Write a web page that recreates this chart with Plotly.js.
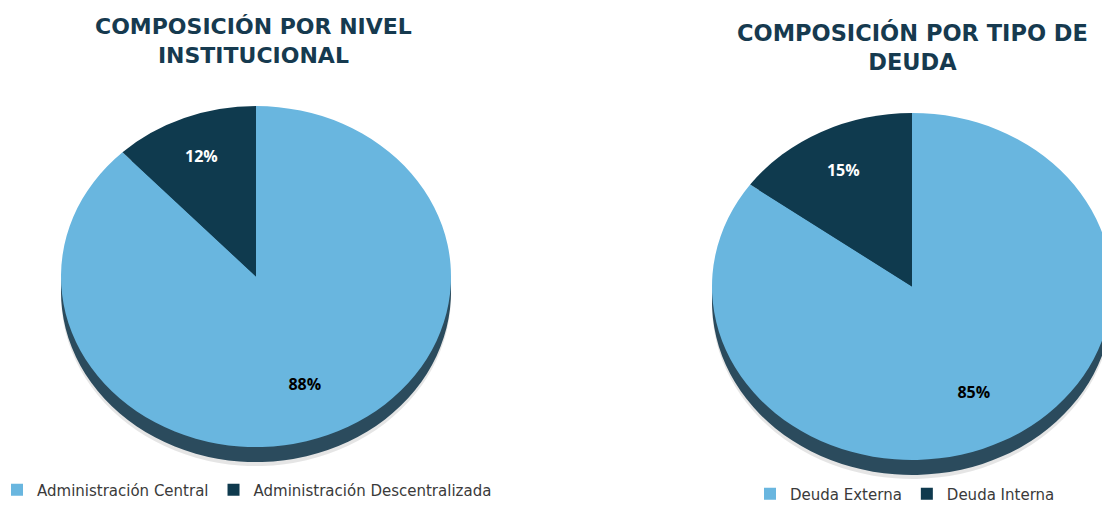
<!DOCTYPE html>
<html>
<head>
<meta charset="utf-8">
<script src="https://cdn.plot.ly/plotly-3.0.1.min.js"></script>
<style>
  html, body { margin: 0; padding: 0; background: #ffffff; }
  #chart { width: 1102px; height: 506px; }
</style>
</head>
<body>
<div id="chart"></div>
<script>
// ---- Data ----
const leftTitle = "COMPOSICIÓN POR NIVEL<br>INSTITUCIONAL";
const leftLabels = ["Administración Central", "Administración Descentralizada"];
const leftValues = [88, 12];

const rightTitle = "COMPOSICIÓN POR TIPO DE<br>DEUDA";
const rightLabels = ["Deuda Externa", "Deuda Interna"];
const rightValues = [85, 15];

// ---- Styling / geometry ----
const W = 1102, H = 506;
const LIGHT = "#69B6DF", DARK = "#0F3A4E", EDGE = "#2B4B5D", TITLE = "#163A4F";

function domainFor(cx, cy, r, dy) {
  return {
    x: [(cx - r) / W, (cx + r) / W],
    y: [1 - (cy + r + dy) / H, 1 - (cy - r + dy) / H]
  };
}

// radial push of the label of each slice (big slice, small slice)
const leftGeo = { cx: 256, cy: 276.5, ry: 170.5, rx: 195, push: [1.36, 1.04] };
const rightGeo = { cx: 912, cy: 286.5, ry: 173.5, rx: 200, push: [1.36, 1.1] };

function pieSet(labels, values, geo, legendId) {
  const common = {
    type: "pie", labels: labels, values: values, sort: false,
    direction: "clockwise", rotation: 0, hoverinfo: "none"
  };
  return [
    Object.assign({}, common, {
      domain: domainFor(geo.cx, geo.cy, geo.ry, 19),
      marker: { colors: ["rgba(0,0,0,0.10)", "rgba(0,0,0,0.10)"], line: { width: 0 } },
      textinfo: "none", showlegend: false, legend: legendId
    }),
    Object.assign({}, common, {
      domain: domainFor(geo.cx, geo.cy, geo.ry, 15),
      marker: { colors: [EDGE, EDGE], line: { width: 0 } },
      textinfo: "none", showlegend: false, legend: legendId
    }),
    Object.assign({}, common, {
      domain: domainFor(geo.cx, geo.cy, geo.ry, 0),
      marker: { colors: [LIGHT, DARK], line: { width: 0 } },
      textinfo: "percent", textposition: "inside",
      insidetextorientation: "horizontal",
      textfont: { family: "Open Sans", size: 16, weight: "bold", color: ["#000000", "#ffffff"] },
      legend: legendId
    })
  ];
}

const data = [].concat(
  pieSet(leftLabels, leftValues, leftGeo, "legend"),
  pieSet(rightLabels, rightValues, rightGeo, "legend2")
);

const legendFont = { family: "DejaVu Sans", size: 15, color: "#3a3a3a" };

const layout = {
  width: W, height: H,
  margin: { l: 0, r: 0, t: 0, b: 0, autoexpand: false },
  paper_bgcolor: "#ffffff",
  showlegend: true,
  legend: {
    orientation: "h", x: -3 / W, xanchor: "left", y: 1 - 490 / H, yanchor: "middle",
    font: legendFont, itemwidth: 30, bgcolor: "rgba(0,0,0,0)", traceorder: "normal"
  },
  legend2: {
    orientation: "h", x: 750 / W, xanchor: "left", y: 1 - 494 / H, yanchor: "middle",
    font: legendFont, itemwidth: 30, bgcolor: "rgba(0,0,0,0)", traceorder: "normal"
  },
  annotations: [
    { text: leftTitle, x: 253 / W, y: 1 - 41.5 / H, xref: "paper", yref: "paper",
      xanchor: "center", yanchor: "middle", showarrow: false,
      font: { family: "DejaVu Sans", size: 22, weight: "bold", color: TITLE } },
    { text: rightTitle, x: 912 / W, y: 1 - 46.5 / H, xref: "paper", yref: "paper",
      xanchor: "center", yanchor: "middle", showarrow: false,
      font: { family: "DejaVu Sans", size: 22.5, weight: "bold", color: TITLE } }
  ]
};

const gd = document.getElementById("chart");
Plotly.newPlot(gd, data, layout, { displayModeBar: false, staticPlot: true }).then(function () {
  // Stretch each pie horizontally to mimic the tilted (elliptical) 3D look of the original.
  const traces = gd.querySelectorAll(".pielayer .trace");
  const svgRect = gd.querySelector(".main-svg").getBoundingClientRect();
  traces.forEach(function (tr, i) {
    const geo = i < 3 ? leftGeo : rightGeo;
    const sx = geo.rx / geo.ry;
    const cd0 = gd.calcdata[i][0];
    const cx = cd0.cx, cy = cd0.cy;
    tr.querySelectorAll("path.surface").forEach(function (p) {
      p.setAttribute("transform",
        "translate(" + cx + "," + cy + ") scale(" + sx + ",1) translate(" + (-cx) + "," + (-cy) + ")");
    });
    tr.querySelectorAll("g.slice").forEach(function (s, k) {
      const g = s.querySelector("g.slicetext");
      if (!g) return;
      const b = g.getBoundingClientRect();
      const mx = b.left + b.width / 2 - svgRect.left;
      const my = b.top + b.height / 2 - svgRect.top;
      const f = geo.push[k] || 1;
      const dx = (mx - cx) * (sx * f - 1);
      const dy = (my - cy) * (f - 1);
      g.setAttribute("transform", "translate(" + dx + "," + dy + ")");
    });
  });
});
</script>
</body>
</html>
